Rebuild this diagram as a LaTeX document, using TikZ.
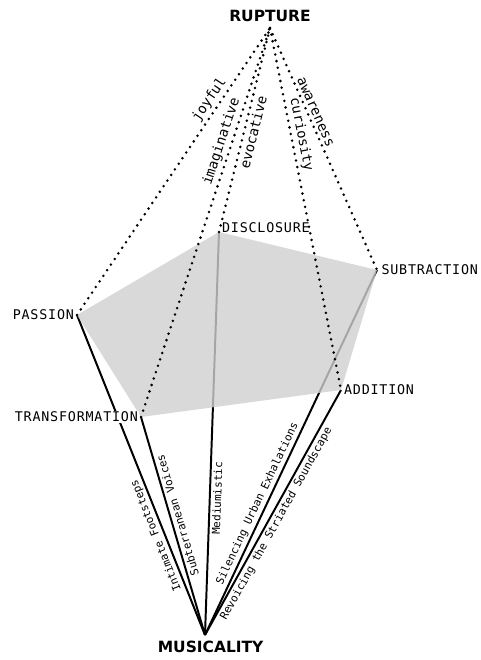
\documentclass[tikz,border=0pt]{standalone}
\usepackage{fontspec}
\setmainfont{DejaVu Sans}
\newfontfamily\cornerfont[LetterSpace=6]{DejaVu Sans Mono}
\newfontfamily\strandfont{DejaVu Sans Mono}
\usetikzlibrary{positioning}

\begin{document}
\begin{tikzpicture}[
	  x=0.025cm, y=-0.025cm,
	  corner/.style={font=\cornerfont\fontsize{9.5}{11}\selectfont, inner sep=1pt},
	  pole/.style={font=\bfseries\fontsize{11}{13}\selectfont, inner sep=1pt},
	  strand/.style={line width=1.4pt},
	  thread/.style={line width=2pt, line cap=round, dash pattern=on 0pt off 4.8pt},
	  strandlabel/.style={font=\strandfont\fontsize{7.8}{9}\selectfont, sloped, allow upside down, inner sep=1.5pt},
	  threadlabel/.style={strandlabel, font=\strandfont\fontsize{9.8}{11}\selectfont}
	]
	\useasboundingbox (0,0) rectangle (481,660);
	
	% Poles
	\coordinate (rupture) at (270,28);
	\coordinate (musicality) at (205,635);
	
	% Corners of the pentagon
	\coordinate (passion) at (77,315);
	\coordinate (disclosure) at (219,232);
	\coordinate (subtraction) at (377,270);
	\coordinate (addition) at (341,390);
	\coordinate (transformation) at (141,417);
	
	% Solid strands from musicality
	\draw[strand] (musicality) -- node[strandlabel, above, pos=0.32]{Intimate Footsteps} (passion);
	\draw[strand] (musicality) -- node[strandlabel, below, pos=0.54]{Subterranean Voices} (transformation);
	\draw[strand] (musicality) -- node[strandlabel, below, pos=0.34]{Mediumistic} (disclosure);
	\draw[strand] (musicality) -- node[strandlabel, above, pos=0.35]{Silencing Urban Exhalations} (subtraction);
	\draw[strand] (musicality) -- node[strandlabel, below, pos=0.47]{Revoicing the Striated Soundscape} (addition);
	
	% Shaded pentagon
	\fill[black!19, fill opacity=0.8] (passion) -- (disclosure) -- (subtraction) -- (addition) -- (transformation) -- cycle;
	
	% Dotted threads to rupture
	\draw[thread] (passion) -- node[threadlabel, above, pos=0.73]{joyful} (rupture);
	\draw[thread] (transformation) -- node[threadlabel, above, pos=0.70]{imaginative} (rupture);
	\draw[thread] (disclosure) -- node[threadlabel, below, pos=0.50]{evocative} (rupture);
	\draw[thread] (rupture) -- node[threadlabel, above, pos=0.30]{curiosity} (addition);
	\draw[thread] (rupture) -- node[threadlabel, above, pos=0.36]{awareness} (subtraction);
	
	% Labels
	\node[pole, above=3pt of rupture] (rupturelbl) {RUPTURE};
	\node[pole, below=3pt of musicality, xshift=4pt] (musicalitylbl) {MUSICALITY};
	\node[corner, left=1pt of passion] (passionlbl) {PASSION};
	\node[corner, right=1pt of disclosure, yshift=3pt] (disclosurelbl) {DISCLOSURE};
	\node[corner, right=2pt of subtraction] (subtractionlbl) {SUBTRACTION};
	\node[corner, right=1pt of addition] (additionlbl) {ADDITION};
	\node[corner, fill=white, left=1pt of transformation] (transformationlbl) {TRANSFORMATION};
	
	\end{tikzpicture}
\end{document}
